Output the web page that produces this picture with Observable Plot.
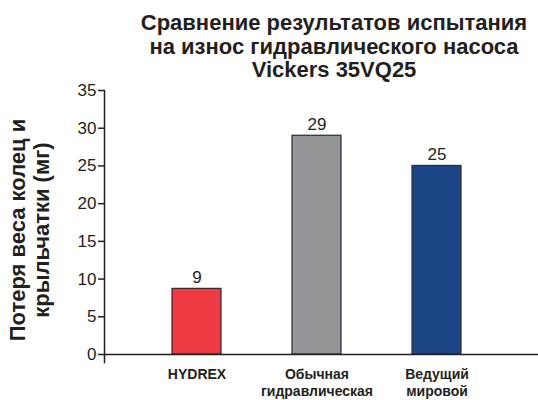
<!DOCTYPE html>
<html>
<head>
<meta charset="utf-8">
<script src="https://cdn.jsdelivr.net/npm/d3@7"></script>
<script src="https://cdn.jsdelivr.net/npm/@observablehq/plot@0.6"></script>
<style>
  html, body { margin: 0; padding: 0; background: #fff; }
  #wrap { position: relative; width: 538px; height: 400px; overflow: hidden; font-family: "Liberation Sans", Arial, sans-serif; }
  #title { position: absolute; left: 120px; width: 428px; top: 11px; text-align: center; font-weight: bold; font-size: 22px; line-height: 23.5px; color: #231f20; }
  #ylabel { position: absolute; left: 30px; top: 230px; width: 320px; transform: translate(-50%, -50%) rotate(-90deg); text-align: center; font-weight: bold; font-size: 22px; line-height: 24px; color: #231f20; }
</style>
</head>
<body>
<div id="wrap">
  <div id="chart"></div>
  <div id="title"></div>
  <div id="ylabel"></div>
</div>
<script>
const titleLines = ["Сравнение результатов испытания", "на износ гидравлического насоса", "Vickers 35VQ25"];
const yLabelLines = ["Потеря веса колец и", "крыльчатки (мг)"];
const categories = ["HYDREX", "Обычная\nгидравлическая", "Ведущий\nмировой"];
const values = [8.7, 29, 25];
const colors = ["#ee3a43", "#939598", "#1c4585"];
const yTicks = [0, 5, 10, 15, 20, 25, 30, 35];

document.getElementById("title").innerHTML = titleLines.join("<br>");
document.getElementById("ylabel").innerHTML = yLabelLines.join("<br>");

const data = categories.map((c, i) => ({cat: c, value: values[i], color: colors[i]}));

const plot = Plot.plot({
  width: 538,
  height: 400,
  marginTop: 90,
  marginBottom: 46,
  marginLeft: 104,
  marginRight: 0,
  style: {fontFamily: "Liberation Sans, Arial, sans-serif", color: "#231f20", background: "transparent"},
  x: {domain: categories, range: [171, 461], paddingInner: 0.593, paddingOuter: 0, axis: null},
  y: {domain: [0, 35], axis: null},
  marks: [
    Plot.barY(data, {x: "cat", y: "value", fill: "color", stroke: "#2b2b2b", strokeWidth: 1.2}),
    Plot.ruleY([0], {stroke: "#231f20", strokeWidth: 1.5}),
    Plot.frame({anchor: "left", stroke: "#231f20", strokeWidth: 1.5, insetBottom: -8}),
    Plot.axisY({ticks: yTicks, tickSize: 6, tickPadding: 2, fontSize: 17, stroke: "#231f20", strokeWidth: 1.5, label: null, tickFormat: d3.format("d")}),
    Plot.text(data, {x: "cat", y: "value", text: d => d3.format(".0f")(d.value), dy: -11, fontSize: 17, fill: "#231f20"}),
    Plot.axisX({tickSize: 0, tickPadding: 13, fontSize: 14, fontWeight: "bold", lineHeight: 1.2, label: null, fill: "#231f20", textAnchor: "middle"})
  ]
});
document.getElementById("chart").appendChild(plot);
</script>
</body>
</html>
